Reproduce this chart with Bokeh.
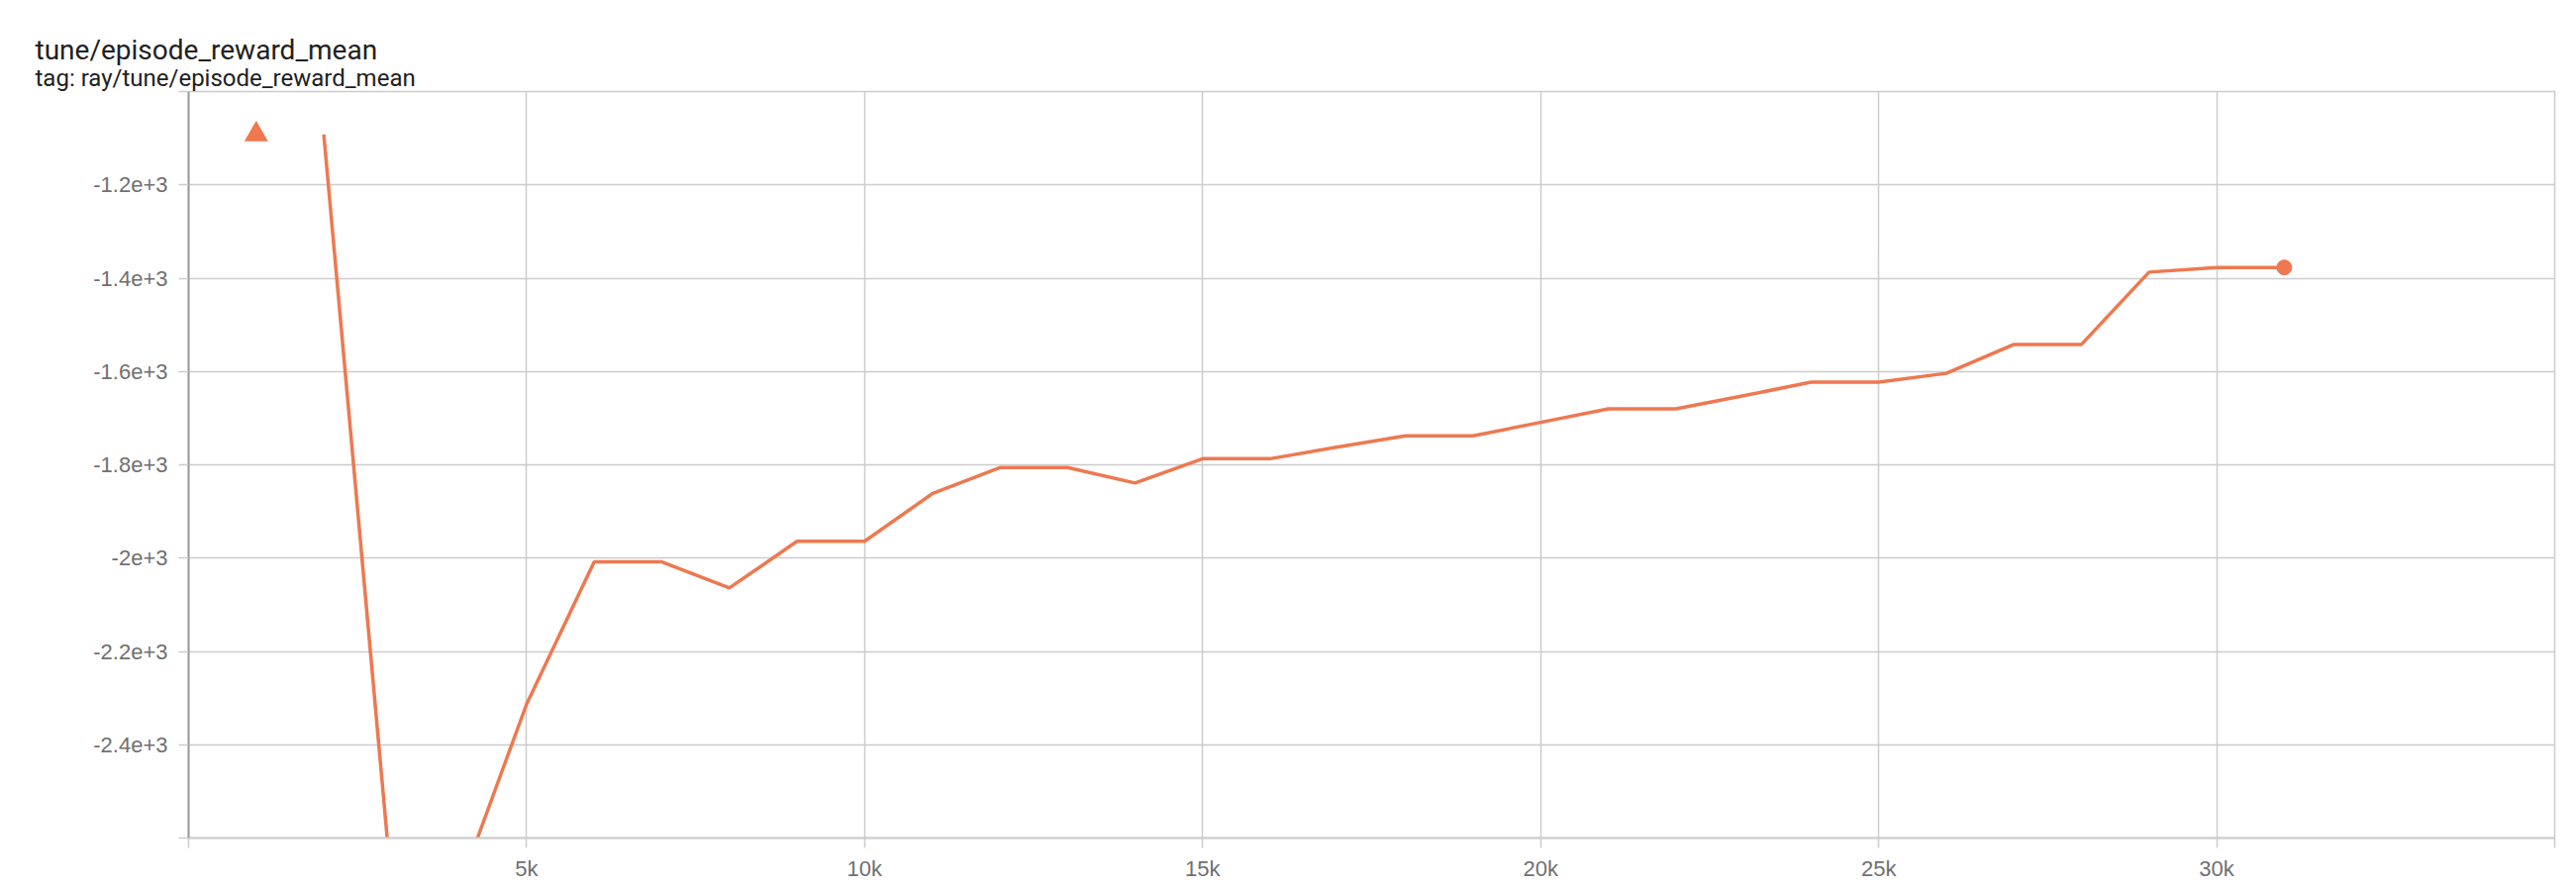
from bokeh.plotting import figure
from bokeh.models import Title, FixedTicker, Range1d
from bokeh.embed import file_html
from bokeh.resources import INLINE

# ---- data ----
steps = [2000, 3000, 4000, 5000, 6000, 7000, 8000, 9000, 10000, 11000,
         12000, 13000, 14000, 15000, 16000, 17000, 18000, 19000, 20000, 21000,
         22000, 23000, 24000, 25000, 26000, 27000, 28000, 29000, 30000, 31000]
reward_mean = [-1092, -2700, -2708, -2313, -2008, -2008, -2064, -1964, -1964, -1862,
               -1806, -1806, -1839, -1787, -1787, -1762, -1738, -1738, -1709, -1680,
               -1680, -1652, -1623, -1623, -1604, -1542, -1542, -1387, -1377, -1377]
nan_steps = [1000]
nan_display = [-1092]

x_ticks = [0, 5000, 10000, 15000, 20000, 25000, 30000, 35000]
x_tick_labels = ["", "5k", "10k", "15k", "20k", "25k", "30k", ""]
y_ticks = [-2600, -2400, -2200, -2000, -1800, -1600, -1400, -1200, -1000]
y_tick_labels = ["", "-2.4e+3", "-2.2e+3", "-2e+3", "-1.8e+3", "-1.6e+3", "-1.4e+3", "-1.2e+3", ""]

title_text = "tune/episode_reward_mean"
subtitle_text = "tag: ray/tune/episode_reward_mean"

COLOR = "#ee7850"
GRID = "#cccccc"

W, H = 2600, 896
p = figure(width=W, height=H, output_backend="svg", toolbar_location=None,
           x_range=Range1d(0, 35000), y_range=Range1d(-2600, -1000),
           min_border_left=190, min_border_right=W - 2580, min_border_top=92,
           min_border_bottom=H - 846)
p.outline_line_color = GRID
p.outline_line_width = 1.5
p.background_fill_color = "white"
p.border_fill_color = "white"

# titles: figure title is the outer (main) line; later-added panels sit closer to the frame
p.title.text = title_text
p.title.align = "left"
p.title.vertical_align = "bottom"
p.title.offset = 35 - 190
p.title.text_font = "Roboto"
p.title.text_font_size = "28px"
p.title.text_font_style = "normal"
p.title.text_color = "#212121"
p.title.standoff = -8
p.add_layout(Title(text=subtitle_text, align="left", vertical_align="bottom",
                   offset=35 - 190, text_font="Roboto",
                   text_font_size="24px", text_font_style="normal",
                   text_color="#212121", standoff=0), "above")
# invisible spacer between the subtitle and the frame
p.add_layout(Title(text=".", text_font_size="2px", text_alpha=0, standoff=17), "above")

p.xaxis.ticker = FixedTicker(ticks=x_ticks)
p.yaxis.ticker = FixedTicker(ticks=y_ticks)
p.xaxis.major_label_overrides = {t: l for t, l in zip(x_ticks, x_tick_labels)}
p.yaxis.major_label_overrides = {t: l for t, l in zip(y_ticks, y_tick_labels)}

for ax in (p.xaxis[0], p.yaxis[0]):
    ax.minor_tick_line_color = None
    ax.major_tick_in = 0
    ax.major_tick_out = 10
    ax.major_tick_line_color = GRID
    ax.major_tick_line_width = 1.5
    ax.major_label_text_font = "Liberation Sans"
    ax.major_label_text_font_size = "22px"
    ax.major_label_text_color = "#707070"

p.yaxis.axis_line_color = "#9a9a9a"
p.yaxis.axis_line_width = 2
p.yaxis.major_label_standoff = 11
p.xaxis.axis_line_color = GRID
p.xaxis.axis_line_width = 2
p.xaxis.major_label_standoff = 8

p.xgrid.grid_line_color = GRID
p.ygrid.grid_line_color = GRID
p.xgrid.grid_line_width = 1.5
p.ygrid.grid_line_width = 1.5

p.line(steps, reward_mean, line_color=COLOR, line_width=3.5)
p.scatter(steps[-1:], reward_mean[-1:], marker="circle", size=15,
          fill_color=COLOR, line_color=COLOR)
p.scatter(nan_steps, nan_display, marker="triangle", size=24,
          fill_color=COLOR, line_color=None)

open("out.html", "w").write(file_html(p, INLINE))
